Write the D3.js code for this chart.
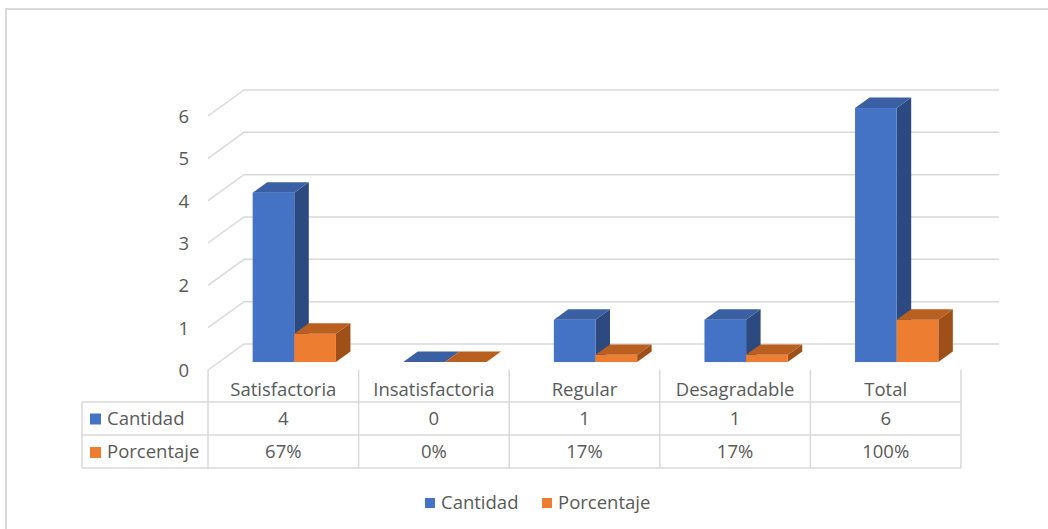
<!DOCTYPE html>
<html><head><meta charset="utf-8">
<script src="https://cdn.jsdelivr.net/npm/d3@7"></script>
<style>
html,body{margin:0;padding:0;background:#fff;overflow:hidden}
text{font-family:"Open Sans","Noto Sans",sans-serif;fill:#595959}
</style></head><body>
<svg id="chart" width="1048" height="529"></svg>
<script>
const categories = ["Satisfactoria","Insatisfactoria","Regular","Desagradable","Total"];
const cantidad = [4, 0, 1, 1, 6];
const porcentaje = [0.67, 0, 0.17, 0.17, 1.00];
const porcentajeLabels = ["67%","0%","17%","17%","100%"];
const seriesNames = ["Cantidad","Porcentaje"];
const yTicks = [0,1,2,3,4,5,6];

const colors = [
  {front:"#4472c4", top:"#3a5fa3", side:"#2d4a80"},
  {front:"#ed7d31", top:"#b95f20", side:"#9f4f18"}
];

const svg = d3.select("#chart");
const FS = 18.5;

// chart border
svg.append("rect").attr("x",6).attr("y",9).attr("width",1100).attr("height",600)
  .attr("fill","none").attr("stroke","#d9d9d9").attr("stroke-width",2);

const x = d3.scaleBand().domain(categories).range([208, 961]).paddingInner(0).paddingOuter(0);
const y = d3.scaleLinear().domain([0,6]).range([370, 116]);
const DEPTH = 36, SLOPE = 26/36;
const P = (px, v, d) => [px + d, y(v) - d*SLOPE];

// gridlines (wall)
const grid = svg.append("g");
yTicks.forEach(t => {
  const a = P(208, t, 0), b = P(208, t, DEPTH), c = P(963, t, DEPTH);
  grid.append("path").attr("d", `M${a[0]},${a[1]}L${b[0]},${b[1]}L${c[0]},${c[1]}`)
    .attr("fill","none").attr("stroke","#d9d9d9").attr("stroke-width",1.5);
  svg.append("text").attr("x",189).attr("y",y(t)+7).attr("text-anchor","end")
    .attr("font-size",FS).text(t);
});

// 3D bars
const groupW = x.bandwidth()*0.553;
const barW = groupW/2;
const d0 = 11, d1 = 25.5;
const data = [cantidad, porcentaje];
const bars = svg.append("g");
categories.forEach((c, i) => {
  data.forEach((vals, s) => {
    const v = vals[i];
    const x0 = x(c) + (x.bandwidth()-groupW)/2 + s*barW;
    const x1 = x0 + barW;
    const col = colors[s];
    const poly = pts => "M" + pts.map(p=>p.join(",")).join("L") + "Z";
    bars.append("path").attr("d", poly([P(x1,v,d0),P(x1,v,d1),P(x1,0,d1),P(x1,0,d0)])).attr("fill",col.side);
    if (v > 0) {
      const f0 = P(x0,v,d0), f1 = P(x1,0,d0);
      bars.append("rect").attr("x",f0[0]).attr("y",f0[1]).attr("width",f1[0]-f0[0]).attr("height",f1[1]-f0[1]).attr("fill",col.front);
    }
    bars.append("path").attr("d", poly([P(x0,v,d0),P(x1,v,d0),P(x1,v,d1),P(x0,v,d1)])).attr("fill",col.top);
  });
});

// data table
const tbl = svg.append("g").attr("stroke","#d9d9d9").attr("stroke-width",1.5);
const rowY = [370, 402, 435, 468];
const left = 82, right = 961;
categories.forEach(c => {
  tbl.append("line").attr("x1",x(c)).attr("x2",x(c)).attr("y1",rowY[0]).attr("y2",rowY[3]);
});
tbl.append("line").attr("x1",right).attr("x2",right).attr("y1",rowY[0]).attr("y2",rowY[3]);
tbl.append("line").attr("x1",left).attr("x2",left).attr("y1",rowY[1]).attr("y2",rowY[3]);
[1,2,3].forEach(r => tbl.append("line").attr("x1",left).attr("x2",right).attr("y1",rowY[r]).attr("y2",rowY[r]));

categories.forEach((c,i) => {
  const cx = x(c) + x.bandwidth()/2;
  svg.append("text").attr("x",cx).attr("y",396).attr("text-anchor","middle").attr("font-size",FS).text(c);
  svg.append("text").attr("x",cx).attr("y",424.5).attr("text-anchor","middle").attr("font-size",FS).text(cantidad[i]);
  svg.append("text").attr("x",cx).attr("y",458).attr("text-anchor","middle").attr("font-size",FS).text(porcentajeLabels[i]);
});
seriesNames.forEach((n,s) => {
  const yy = [424.5, 458][s];
  svg.append("rect").attr("x",90).attr("y",yy-11).attr("width",11).attr("height",11).attr("fill",colors[s].front);
  svg.append("text").attr("x",107).attr("y",yy).attr("font-size",FS).text(n);
});

// legend
const legX = [425, 542];
seriesNames.forEach((n,s) => {
  svg.append("rect").attr("x",legX[s]).attr("y",498).attr("width",10).attr("height",10).attr("fill",colors[s].front);
  svg.append("text").attr("x",legX[s]+16).attr("y",509).attr("font-size",FS).text(n);
});
</script>
</body></html>
